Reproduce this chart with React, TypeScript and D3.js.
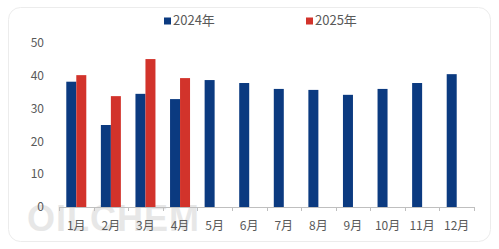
import React from "react";
import * as d3 from "d3";

const months = ["1月", "2月", "3月", "4月", "5月", "6月", "7月", "8月", "9月", "10月", "11月", "12月"];
const series2024 = [38.2, 25.0, 34.5, 32.9, 38.7, 37.8, 36.0, 35.7, 34.2, 36.0, 37.8, 40.5];
const series2025: (number | null)[] = [40.2, 33.8, 45.1, 39.3, null, null, null, null, null, null, null, null];
const seriesNames = ["2024年", "2025年"];
const colors = ["#0b3a80", "#d2332b"];
const yTicks = [0, 10, 20, 30, 40, 50];

const W = 499;
const H = 249;
const FONT = "'Noto Sans CJK SC', 'Noto Sans', sans-serif";

export default function App() {
  const x = d3.scaleBand<string>().domain(months).range([59, 474]).paddingInner(0).paddingOuter(0);
  const y = d3.scaleLinear().domain([0, 50]).range([207, 43]);
  const barW = 10;
  const all = [series2024, series2025];

  return (
    <div style={{ position: "absolute", left: 0, top: 0 }}>
      <svg width={W} height={H} style={{ display: "block", fontFamily: FONT }}>
        <rect x={0} y={0} width={W} height={H} fill="#ffffff" />
        <rect x={8.5} y={7.5} width={482} height={234} rx={12} ry={12} fill="#ffffff" stroke="#ececec" strokeWidth={1} />
        {/* watermark */}
        <text x={27} y={231} fontSize={36} fontWeight={700} fill="#d8d8d8" opacity={0.6} letterSpacing={1} fontFamily="'Liberation Sans', Arial, sans-serif">
          OILCHEM
        </text>
        {/* y ticks */}
        {yTicks.map((t) => (
          <text key={t} x={44} y={y(t)} dy="0.35em" textAnchor="end" fontSize={12} fill="#595959">
            {t}
          </text>
        ))}
        {/* bars */}
        {all.map((s, si) =>
          s.map((v, i) =>
            v == null ? null : (
              <rect
                key={`${si}-${i}`}
                x={(x(months[i]) as number) + x.bandwidth() / 2 - barW + si * barW}
                y={y(v)}
                width={barW}
                height={y(0) - y(v)}
                fill={colors[si]}
              />
            )
          )
        )}
        {/* x axis */}
        <line x1={59} x2={474} y1={207.5} y2={207.5} stroke="#bfbfbf" strokeWidth={1} />
        {months.map((m, i) => (
          <line key={`t${i}`} x1={Math.round(x(m) as number) + 0.5} x2={Math.round(x(m) as number) + 0.5} y1={207} y2={211} stroke="#bfbfbf" />
        ))}
        <line x1={474.5} x2={474.5} y1={207} y2={211} stroke="#bfbfbf" />
        {months.map((m) => (
          <text key={m} x={(x(m) as number) + x.bandwidth() / 2} y={230} textAnchor="middle" fontSize={12} fill="#595959">
            {m}
          </text>
        ))}
        {/* legend */}
        {seriesNames.map((n, i) => {
          const lx = i === 0 ? 164 : 306;
          return (
            <g key={n}>
              <rect x={lx} y={17.5} width={7} height={7} fill={colors[i]} />
              <text x={lx + 9} y={25} fontSize={13} fill="#595959">
                {n}
              </text>
            </g>
          );
        })}
      </svg>
    </div>
  );
}
